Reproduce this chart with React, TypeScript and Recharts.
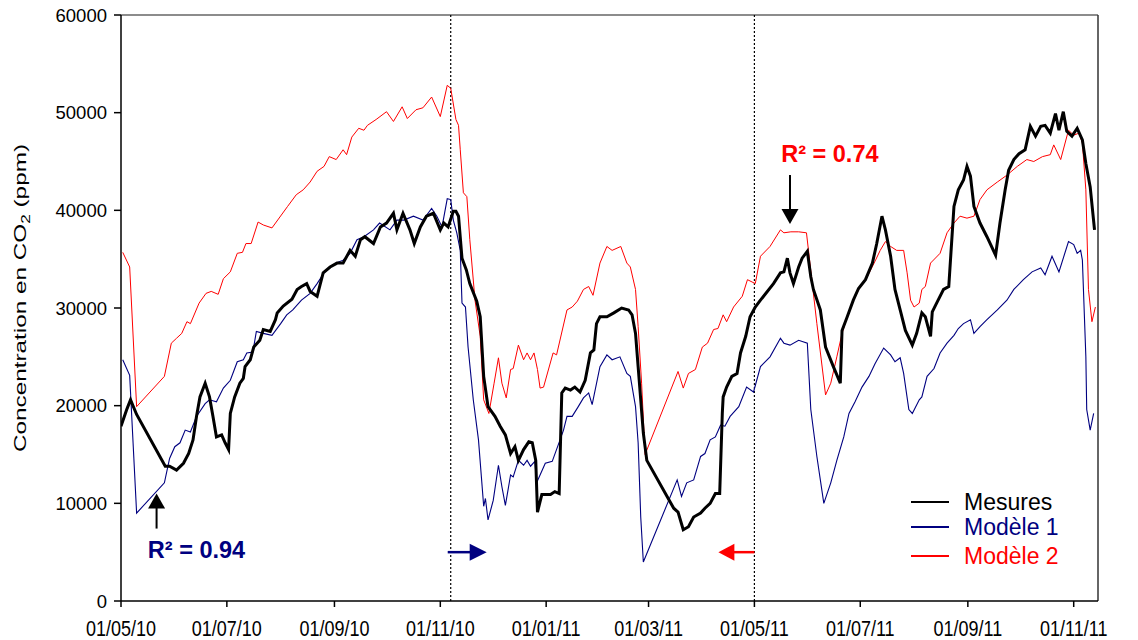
import React from 'react';
import { LineChart, Line, XAxis, YAxis, ReferenceLine, ReferenceDot, Legend } from 'recharts';

const FONT = "'Liberation Sans', Arial, Helvetica, sans-serif";

// x = days since 01/05/2010
const tickDays = [0, 61, 123, 184, 245, 304, 365, 426, 488, 549];
const tickLabels = ['01/05/10', '01/07/10', '01/09/10', '01/11/10', '01/01/11', '01/03/11', '01/05/11', '01/07/11', '01/09/11', '01/11/11'];
const yTicks = [0, 10000, 20000, 30000, 40000, 50000, 60000];
const periodBounds = [190, 365];

const mesures: [number, number][] = [
  [0,17900],[3.5,19700],[5.5,20600],[9,19100],[25.5,13800],[28,13800],[32,13400],[36,14100],[39,15100],[41.5,16500],[43.5,18900],[45.5,20900],[48.5,22300],[51,20900],[53,18900],[55,16800],[58,17000],[60,16200],[62,15500],[63,19200],[65.5,20900],[68.5,22300],[70.5,22800],[71.5,24000],[74.5,24700],[76.5,26000],[80,26700],[82,27800],[86,27600],[89,28800],[90,29500],[93.5,30200],[98.5,30900],[101.5,31900],[104,32200],[107,32500],[109,31700],[113,31200],[116.5,33600],[120.5,34200],[124.5,34600],[128,34600],[132,35900],[135,35300],[138,37000],[140.5,37300],[145.5,36600],[149.5,38300],[153,38700],[157,39700],[159,38000],[162.5,39700],[166.5,38000],[169,36600],[172.5,38300],[176,39400],[180,39700],[184,38000],[186,38700],[188.5,38300],[191.5,39900],[193,39900],[194.5,39400],[196.5,35100],[199,33900],[201,32500],[205,30700],[207,29100],[209,23000],[211.5,19900],[215.5,18900],[218.5,17900],[221.5,17000],[224.5,15100],[227,15800],[229,14400],[232,15500],[235,16300],[237,16200],[239,14400],[240,9100],[242.5,10900],[247.5,10900],[250,11200],[252.5,11000],[254,21300],[256,21800],[259,21600],[261.5,21900],[264.5,21400],[267.5,22600],[270.5,25400],[272.5,25700],[274,28400],[276,29100],[280,29100],[284,29500],[288.5,30000],[292.5,29800],[294.5,29300],[296.5,27400],[298,24000],[301,17200],[303,14400],[318.5,9500],[321,9100],[324,7300],[327,7600],[330,8600],[334,9000],[336.5,9500],[339.5,10000],[342.5,11000],[345,11000],[346.5,19200],[347,20900],[349,21900],[352,23000],[355,23300],[357,25400],[360,27100],[362.5,29100],[365.5,30100],[368.5,30800],[376,32500],[380,33600],[382,33700],[384,35100],[385.5,33600],[387.5,32500],[390.5,34200],[392.5,35100],[395.5,35800],[397.5,33200],[399,31900],[403,29800],[406,26000],[410.5,24000],[414.5,22300],[415.5,27700],[418.5,29100],[422,30800],[425,32000],[429,32900],[433,34600],[435.5,36600],[438.5,39400],[440.5,38000],[443.5,35300],[446,31900],[449,29800],[452,27700],[456,26200],[458.5,27400],[461.5,29500],[463.5,29100],[466.5,27100],[467.5,29600],[470,30500],[474,31900],[477,32200],[480,40400],[482.5,42100],[485.5,43100],[487.5,44500],[489.5,43500],[491.5,40400],[495,38700],[499,37300],[504,35400],[506.5,38700],[509.5,42100],[511.5,44100],[514.5,45200],[517.5,45800],[521,46200],[524,48600],[527,47600],[530,48600],[532.5,48700],[535.5,47900],[538.5,49900],[540.5,48200],[543,50100],[545,48100],[548,47600],[551,48400],[554,47200],[556,44800],[558.5,42400],[561,38000]
];

const modele1: [number, number][] = [
  [1,24700],[5,23100],[9,9000],[25,12100],[28,14600],[31,15800],[34,16200],[37,17500],[40,17300],[43.5,18900],[48.5,20200],[51,20600],[55,20400],[59,21800],[63,22600],[67,24500],[70.5,24700],[72.5,25400],[76,25500],[78,27600],[82,27400],[87,27200],[92,28400],[95.5,29300],[99,29800],[104,30800],[109,31500],[113,32500],[117,33600],[120.5,34200],[124,34600],[128,34900],[132,35600],[136,37000],[140,37300],[145.5,38000],[149,38700],[155,38000],[159,39000],[163,39000],[168.5,39400],[174,39000],[179,40200],[182,39400],[185,38300],[188,41200],[190,41100],[191.5,39000],[193.5,37700],[195.5,35900],[196.5,30500],[198.5,30100],[200,26000],[203,20600],[206,16500],[209,9700],[210,10500],[211.5,8300],[214.5,10300],[217.5,13900],[219.5,11700],[221.5,9800],[224.5,12900],[226,12700],[229,14400],[232,13900],[234,14400],[236,13800],[238.5,14300],[239.5,12100],[244.5,14100],[248.5,14300],[253,16500],[255,17500],[257,18900],[260,18900],[263.5,19900],[266.5,20800],[269.5,21300],[271.5,20100],[276,24000],[280,25200],[283,24700],[287.5,25000],[291.5,23300],[293.5,23000],[296.5,19900],[298,16200],[299.5,8600],[301,4000],[320.5,12400],[323,10700],[326,12100],[330,12400],[334,14800],[336.5,15100],[339.5,16500],[342.5,16800],[345.5,18000],[348,17900],[351,18900],[356,19900],[360.5,21900],[364.5,21400],[368.5,24000],[374,25000],[380,26900],[382,26400],[385.5,26200],[390.5,26700],[395.5,26400],[397.5,19600],[401,14800],[405,10000],[409,12100],[412.5,14400],[416.5,16800],[419.5,19200],[423,20400],[427,21900],[431,23000],[434.5,24300],[439.5,25900],[443.5,25200],[446,24500],[449,24900],[451,23300],[454,19600],[456,19200],[460,20600],[461.5,20900],[464.5,23000],[468.5,23800],[472,25400],[476,26400],[480,27200],[482.5,27900],[485.5,28400],[489.5,28800],[491.5,27400],[495,28100],[499,28800],[505,29800],[510.5,30800],[514.5,31900],[520,32900],[525,33700],[530,34100],[532.5,33400],[536.5,35300],[540.5,33700],[546,36800],[549,36500],[551,35600],[553,35900],[554,34900],[556,25000],[556.5,19600],[558.5,17500],[560.5,19200]
];

const modele2: [number, number][] = [
  [1,35700],[5,34200],[9,19900],[25,23000],[29,26400],[32,26900],[35,27400],[38,28600],[40,28400],[45,30500],[49,31500],[52,31700],[56,31400],[59,33000],[63,33700],[67,35600],[70,35700],[72,36600],[75,36600],[79,38800],[82,38500],[87,38200],[96,40400],[101,41600],[105,42100],[109,42900],[113,44000],[117,44500],[120,45500],[124,45200],[128,46200],[130,45700],[133,47500],[137,48400],[140,48200],[142,48700],[147,49300],[153,50100],[157,49100],[162,50600],[165,49400],[170,50300],[174,50500],[179,51600],[184,49600],[188,52800],[190,52500],[193,49300],[194.5,48700],[195.5,46200],[197.3,41800],[199.3,41400],[201,37000],[204,30800],[207,27100],[209,20600],[212,19200],[215,22300],[217.5,24900],[219.5,22300],[222,20800],[224.5,23700],[226,23800],[229,26200],[232,24700],[234,25400],[236,24700],[238,25400],[240,23700],[241.5,21800],[243.5,21900],[249,25400],[251,25200],[257,29800],[260,30100],[263,30700],[266.5,31900],[269.5,32200],[272,31300],[276,34600],[280,36300],[283,35900],[288,36300],[291.5,34600],[293.5,34200],[296.5,31900],[298,28100],[300,22300],[302,15000],[321,23500],[324,21800],[327,23300],[331,23700],[335,26000],[338,26400],[341.5,27800],[344,27900],[347,29300],[349,28600],[353,30100],[358,31200],[361,32900],[365.5,32500],[368.5,35300],[374,36300],[380,38000],[382,37700],[386,37800],[390.5,37800],[395,37700],[397,34600],[401,28400],[406,21100],[409,22300],[412.5,25000],[415.5,27400],[418.5,29100],[422,30800],[426,32200],[430,33200],[434,34600],[437.5,35900],[440.5,36800],[443.5,36300],[447,35900],[451,35900],[453,33600],[455,30800],[457,30100],[460,30500],[461.5,31900],[463.5,32200],[466.5,34600],[472,35600],[476,37700],[480,38700],[483.5,39400],[487.5,39200],[491.5,39400],[495,41100],[499,42100],[505,42900],[510.5,43600],[516.5,44500],[522,45200],[526,45000],[531,45500],[535.5,45700],[537.5,46700],[541.5,45200],[546,48200],[549,47700],[552,47900],[554,46900],[556,42100],[557.5,31900],[559.5,28600],[561.5,30100]
];

// annotation anchors [day, ppm]
const r2Model1 = { text: 'R² = 0.94', day: 43.5, ppm: 4400 };
const r2Model2 = { text: 'R² = 0.74', day: 408.5, ppm: 44950 };
const upArrowTip = { day: 20.5, ppm: 11000 };
const downArrowTip = { day: 385.5, ppm: 38600 };
const arrowLevel = 5000;

const toRows = (arr: [number, number][]) => arr.map(([d, v]) => ({ d, v }));

const NAVY = '#000080';
const RED = '#FF0000';

const YLabel = () => (
  <text
    x={25.5}
    y={298}
    transform="rotate(-90 25.5 298)"
    textAnchor="middle"
    fontSize={17}
    fontFamily={FONT}
    fill="#000"
    textLength={308}
    lengthAdjust="spacingAndGlyphs"
  >
    Concentration en CO<tspan dy={4} fontSize={12}>2</tspan><tspan dy={-4}> (ppm)</tspan>
  </text>
);

const XTick = (p: any) => {
  const { x, y, payload } = p;
  const base = y + 16;
  return (
    <text
      x={x}
      y={base}
      textAnchor="middle"
      fontSize={18}
      fontFamily={FONT}
      fill="#000"
      transform={`translate(0 ${base}) scale(1 1.2) translate(0 ${-base})`}
    >
      {tickLabels[tickDays.indexOf(payload.value)] ?? ''}
    </text>
  );
};

const textShape = (text: string, color: string) => (p: any) => (
  <text x={p.cx} y={p.cy} textAnchor="middle" fontSize={23.5} fontWeight="bold" fontFamily={FONT} fill={color}>{text}</text>
);

const upArrow = (p: any) => {
  const { cx, cy } = p;
  return (
    <g>
      <line x1={cx} y1={cy + 14} x2={cx} y2={cy + 35} stroke="#000" strokeWidth={2} />
      <polygon points={`${cx},${cy} ${cx - 8.5},${cy + 15} ${cx + 8.5},${cy + 15}`} fill="#000" />
    </g>
  );
};

const downArrow = (p: any) => {
  const { cx, cy } = p;
  return (
    <g>
      <line x1={cx} y1={cy - 49} x2={cx} y2={cy - 14} stroke="#000" strokeWidth={2} />
      <polygon points={`${cx},${cy} ${cx - 8.5},${cy - 15} ${cx + 8.5},${cy - 15}`} fill="#000" />
    </g>
  );
};

const rightArrow = (p: any) => {
  const { cx, cy } = p;
  return (
    <g>
      <line x1={cx - 3} x2={cx + 20} y1={cy} y2={cy} stroke={NAVY} strokeWidth={2.5} />
      <polygon points={`${cx + 36},${cy} ${cx + 19},${cy - 8.5} ${cx + 19},${cy + 8.5}`} fill={NAVY} />
    </g>
  );
};

const leftArrow = (p: any) => {
  const { cx, cy } = p;
  return (
    <g>
      <line x1={cx} x2={cx - 21} y1={cy} y2={cy} stroke={RED} strokeWidth={2.5} />
      <polygon points={`${cx - 36},${cy} ${cx - 20},${cy - 8.5} ${cx - 20},${cy + 8.5}`} fill={RED} />
    </g>
  );
};

const legendItems = [
  { name: 'Mesures', color: '#000' },
  { name: 'Modèle 1', color: NAVY },
  { name: 'Modèle 2', color: RED },
];
const legendRowY = [14, 39, 68];

const LegendBox = () => (
  <svg width={220} height={90} style={{ display: 'block' }}>
    {legendItems.map((it, i) => (
      <g key={it.name}>
        <line x1={6} x2={44} y1={legendRowY[i]} y2={legendRowY[i]} stroke={it.color} strokeWidth={2} />
        <text x={59} y={legendRowY[i] + 7.5} fontSize={23} fontFamily={FONT} fill={it.color}>{it.name}</text>
      </g>
    ))}
  </svg>
);

export default function App() {
  return (
    <div style={{ position: 'absolute', left: 0, top: 0, width: 1138, height: 640, background: '#fff' }}>
      <LineChart width={1138} height={640} margin={{ top: 15, right: 40, bottom: 0, left: 0 }}>
        <XAxis
          type="number"
          dataKey="d"
          domain={[0, 563]}
          ticks={tickDays}
          interval={0}
          allowDataOverflow
          height={39}
          tickSize={6}
          tickMargin={13}
          axisLine={{ stroke: '#000', strokeWidth: 1.5 }}
          tickLine={{ stroke: '#000', strokeWidth: 1.5 }}
          tick={<XTick />}
        />
        <YAxis
          type="number"
          domain={[0, 60000]}
          ticks={yTicks}
          interval={0}
          width={121}
          tickSize={7}
          tickMargin={7}
          axisLine={{ stroke: '#000', strokeWidth: 1.5 }}
          tickLine={{ stroke: '#000', strokeWidth: 1.5 }}
          tick={{ fill: '#000', fontSize: 18.5, fontFamily: FONT }}
          label={<YLabel />}
        />
        <ReferenceLine y={60000} stroke="#666" strokeWidth={1.5} />
        <ReferenceLine x={563} stroke="#333" strokeWidth={1.5} />
        {periodBounds.map((d) => (
          <ReferenceLine key={d} x={d} stroke="#000" strokeWidth={1.2} strokeDasharray="2 2" />
        ))}
        <Line data={toRows(modele2)} dataKey="v" name="Modèle 2" type="linear" stroke={RED} strokeWidth={1} dot={false} activeDot={false} isAnimationActive={false} />
        <Line data={toRows(modele1)} dataKey="v" name="Modèle 1" type="linear" stroke={NAVY} strokeWidth={1.1} dot={false} activeDot={false} isAnimationActive={false} />
        <Line data={toRows(mesures)} dataKey="v" name="Mesures" type="linear" stroke="#000" strokeWidth={3} dot={false} activeDot={false} isAnimationActive={false} />
        <ReferenceDot x={r2Model1.day} y={r2Model1.ppm} shape={textShape(r2Model1.text, NAVY)} />
        <ReferenceDot x={r2Model2.day} y={r2Model2.ppm} shape={textShape(r2Model2.text, RED)} />
        <ReferenceDot x={upArrowTip.day} y={upArrowTip.ppm} shape={upArrow} />
        <ReferenceDot x={downArrowTip.day} y={downArrowTip.ppm} shape={downArrow} />
        <ReferenceDot x={periodBounds[0]} y={arrowLevel} shape={rightArrow} />
        <ReferenceDot x={periodBounds[1]} y={arrowLevel} shape={leftArrow} />
        <Legend
          layout="vertical"
          align="center"
          verticalAlign="middle"
          wrapperStyle={{ left: 905, top: 488, width: 220, height: 90 }}
          content={() => <LegendBox />}
        />
      </LineChart>
    </div>
  );
}
